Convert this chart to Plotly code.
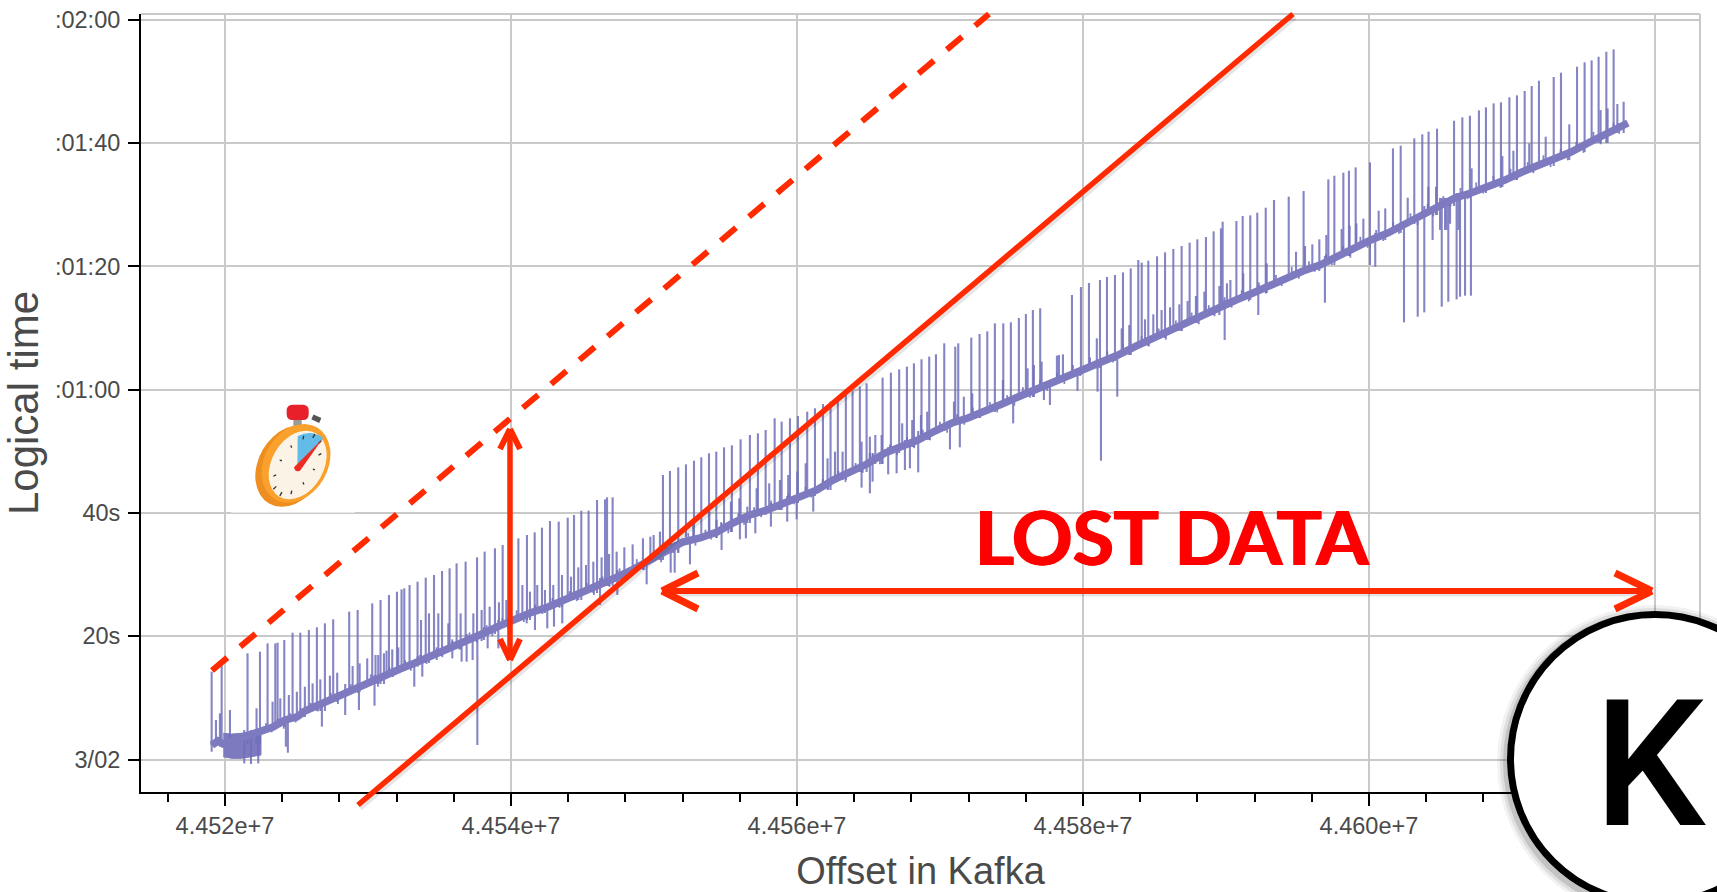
import base64
import numpy as np
import plotly.graph_objects as go

# ---- data: offsets in thousands, logical time in seconds ----
BASE = 44500.0
base_offset_k = [19.09,19.51,19.86,22.52,23.36,24.20,25.03,25.59,26.99,28.39,29.79,31.19,31.89,32.24,33.29,34.48,35.59,36.78,37.97,39.02,40.07,41.33,42.59,43.78,44.97,46.08,47.27,48.46,49.72,50.84,52.03,53.22,54.41,55.52,56.71,57.90,59.02,60.21,61.40,62.52,63.71,64.89,66.15,67.34,68.46,69.65,70.84,71.96,73.15,74.34,75.45,76.64,77.83,78.95,80.14,81.33,82.45,83.71,84.89,86.08,87.27,88.39,89.58,90.70,91.89,93.08,94.27,95.39,96.57,97.83,99.02,100.14,101.33,102.52,103.71,104.83,106.01,107.13,108.32,109.51,110.70,111.82,113.01,114.13,115.32,116.72,118.11]
base_time_s = [2.35,3.0,2.52,4.79,5.27,6.41,6.9,7.87,9.33,10.95,12.25,13.71,14.36,14.68,15.65,16.79,17.92,19.22,20.36,21.49,22.63,23.77,24.74,25.87,27.01,28.14,29.44,30.74,32.36,33.50,35.28,35.93,36.90,38.36,39.66,40.47,41.61,42.74,43.72,45.34,46.64,47.93,49.72,50.69,51.83,53.29,54.58,55.39,56.37,57.67,58.80,59.94,61.24,62.37,63.51,64.64,65.61,67.07,68.37,69.51,70.81,72.10,73.40,74.54,75.67,76.97,78.27,79.24,80.21,81.67,83.13,84.27,85.41,86.86,88.32,89.78,91.08,91.89,92.87,94.0,95.30,96.27,97.25,98.54,100.0,101.63,103.25]

# dense start-up burst outlined as a closed area (top edge, then bottom edge)
burst_offset_k = [19.88,20.46,21.16,21.86,22.52,22.52,21.86,21.16,20.46,19.88]
burst_time_s = [4.25,4.13,4.25,4.52,5.06,0.73,0.46,0.19,0.19,0.46]

tall_offset_k = [19.07,19.77,21.58,22.45,22.98,23.52,23.68,24.15,24.73,25.27,25.87,26.43,26.99,27.57,28.69,29.28,30.30,30.88,31.47,32.03,32.35,32.54,32.91,33.47,34.04,34.62,35.18,35.71,36.20,36.83,37.63,38.16,38.88,39.42,40.52,41.12,41.66,42.17,42.73,43.34,43.97,44.41,44.92,45.43,46.02,46.58,46.72,47.11,50.63,51.12,51.70,52.24,52.80,53.31,53.85,54.36,54.90,55.45,56.06,56.71,57.27,57.81,58.44,58.93,59.51,60.07,60.72,61.26,61.82,62.35,62.86,63.42,63.89,64.40,64.87,65.99,66.57,67.15,67.69,68.18,68.71,69.25,69.72,70.30,71.07,71.28,72.19,72.77,73.31,73.84,74.43,74.96,75.52,76.01,76.50,77.01,79.23,79.86,80.42,81.19,81.68,82.24,82.80,83.34,83.87,84.11,84.57,85.18,85.74,86.32,86.90,87.46,88.00,88.60,89.14,89.65,89.77,90.73,91.17,91.70,92.19,92.78,93.36,94.39,95.43,97.16,97.58,98.21,98.60,99.07,100.07,101.68,102.22,103.17,103.73,104.17,104.76,105.95,106.53,107.06,107.69,108.18,108.72,109.23,109.82,110.35,110.89,111.38,111.89,112.92,113.43,114.55,115.08,115.57,116.06,116.60,117.11]
tall_time_s = [14.25,15.33,17.22,17.49,18.84,18.84,18.95,19.38,20.57,20.57,21.0,21.44,22.09,22.74,23.98,24.25,25.33,25.87,26.68,27.22,27.6,27.76,28.3,28.85,29.50,29.93,30.58,31.01,31.82,32.09,32.80,33.72,34.26,34.80,35.88,36.42,36.85,37.61,38.69,38.58,39.23,39.66,40.37,40.37,42.10,42.2,42.53,42.53,46.15,46.80,47.40,47.88,48.48,49.02,49.67,49.94,50.64,50.97,51.94,52.64,52.91,53.45,55.35,54.81,55.35,55.72,56.43,56.97,57.67,58.05,58.59,59.40,59.83,60.48,61.02,61.94,62.75,63.29,63.73,64.27,64.92,65.35,65.73,67.51,66.97,67.51,68.43,69.02,69.45,70.75,70.75,70.92,71.62,72.27,72.92,73.19,75.35,76.64,77.3,77.78,78.27,78.59,79.02,79.67,81.03,80.59,80.92,81.62,82.27,82.81,83.30,83.84,84.38,84.76,85.68,86.16,87.24,87.35,88.16,88.27,88.70,89.51,90.76,91.30,92.22,94.11,94.70,95.19,95.51,96.05,96.86,99.13,99.57,100.76,101.41,101.84,102.33,103.62,104.16,104.43,105.30,105.79,106.43,106.60,107.41,107.73,108.44,109.25,110.11,110.71,111.41,112.38,113.09,113.41,114.0,114.81,115.19]

short_offset_k = [19.37,19.65,20.35,22.21,23.33,23.87,24.47,25.03,25.59,26.13,26.67,27.34,27.85,28.93,29.42,29.95,30.53,30.72,31.12,31.30,31.70,32.12,33.71,34.27,34.92,35.62,36.48,37.37,37.95,38.51,39.16,39.68,40.80,41.33,41.84,42.38,42.96,43.57,44.20,44.71,45.25,45.76,46.34,46.86,47.39,47.93,48.51,49.23,49.75,49.98,50.42,51.35,52.75,53.87,54.38,55.38,55.97,56.53,57.18,58.06,58.81,59.39,60.02,60.61,62.14,62.66,63.19,64.52,65.10,65.48,65.92,67.36,68.06,68.67,69.11,69.95,70.98,71.67,72.26,74.40,76.13,76.57,77.11,78.18,78.32,78.60,80.97,82.71,83.24,84.34,84.92,85.50,86.09,86.74,87.32,87.90,88.49,89.54,90.07,90.31,91.21,92.85,94.90,95.53,96.04,96.53,97.02,98.09,98.65,99.12,99.61,100.68,101.14,102.71,104.15,104.69,107.18,109.33,110.10,111.21,112.36,114.01,116.20,116.69,117.37,117.81]
short_time_s = [6.41,7.49,8.03,8.30,9.38,9.92,10.46,11.0,11.81,12.35,13.0,13.6,14.08,15.16,15.6,16.41,16.95,16.95,17.22,17.65,17.87,18.19,22.63,23.71,23.71,22.09,23.71,23.71,24.25,24.79,25.50,25.87,28.3,27.23,28.3,27.5,28.3,29.93,29.66,31.17,31.55,32.09,32.8,33.34,33.72,34.42,34.9,35.88,36.15,36.42,36.96,35.07,38.31,40.21,38.86,41.83,42.37,41.02,44.0,44.8,45.34,46.15,46.7,48.05,48.86,49.94,49.94,51.56,52.37,52.64,52.64,54.53,55.07,55.88,56.42,54.26,58.05,58.86,59.40,61.56,63.45,63.99,64.53,65.51,65.62,65.72,68.32,69.94,70.48,71.40,72.21,72.91,73.35,73.83,74.37,75.19,75.89,76.81,77.24,77.78,78.86,80.48,82.37,83.29,83.56,84.37,85.08,86.05,86.59,86.97,87.73,89.02,89.40,91.13,92.92,92.92,95.89,97.89,98.76,99.95,101.03,103.03,105.35,105.62,106.33,106.70]

down_offset_k = [19.07,19.65,21.35,21.82,22.33,24.26,24.40,26.78,28.41,29.37,30.46,33.24,33.48,33.80,34.81,35.90,36.55,36.90,37.32,37.65,38.12,38.37,39.12,41.10,41.68,42.54,43.01,43.59,46.23,47.44,49.49,51.17,51.45,52.52,54.73,56.01,56.43,57.09,58.18,59.32,59.98,61.14,64.52,65.10,65.29,66.38,66.97,67.55,67.90,68.48,70.70,71.39,75.12,77.27,77.69,79.62,81.02,81.26,82.40,89.91,92.26,96.92,100.07,100.44,102.45,103.41,103.87,104.45,104.97,105.09,105.32,105.43,105.55,105.67,106.13,106.25,106.37,106.72,107.13]
down_time_s = [1.27,2.08,-0.62,-0.73,-0.62,2.08,1.1,5.33,7.22,8.03,8.73,11.81,15.06,13.44,16.14,16.41,15.87,15.87,16.14,2.35,19.39,18.03,18.03,22.09,21.01,21.28,21.55,22.09,25.06,26.69,28.42,30.31,30.31,31.66,33.99,35.72,35.88,36.69,37.77,38.58,38.96,40.21,44.1,43.18,45.07,46.26,46.42,46.96,47.23,46.58,50.31,50.64,54.53,58.32,57.51,59.78,59.67,48.48,58.86,68.05,72.10,74.10,80.21,79.94,70.91,71.83,72.53,84.27,85.9,73.45,85.9,85.9,74.26,86.9,74.64,85.9,75.07,75.24,75.24]

# fine hairs that roughen the edges of the band
hair_up_offset_k = [22.87,23.71,24.55,25.30,26.0,27.4,28.8,30.2,31.5,32.6,33.65,34.8,35.9,37.1,38.3,39.4,40.4,41.7,42.9,44.1,45.3,46.4,47.6,48.8,50.1,51.2,52.4,53.6,54.7,55.9,57.0,58.2,59.4,60.6,61.8,62.9,64.1,65.3,66.5,67.7,68.8,70.0,71.2,72.3,73.5,74.7,75.8,77.0,78.2,79.3,80.5,81.7,82.8,84.1,85.3,86.5,87.6,88.8,89.9,91.1,92.3,93.5,94.6,95.8,97.0,98.2,99.4,100.5,101.7,102.9,104.1,105.2,106.4,107.5,108.7,109.9,111.1,112.2,113.4,114.5,115.7,117.1]
hair_up_time_s = [5.9,6.7,7.5,8.3,9.2,10.8,12.2,13.8,15.0,16.1,17.0,18.2,19.5,20.6,21.8,22.9,24.2,25.1,26.2,27.3,28.6,29.7,31.0,32.5,33.8,35.1,36.7,37.3,38.5,39.9,40.9,42.0,43.1,44.2,45.5,46.8,48.1,49.6,51.1,52.3,53.5,54.8,56.0,57.1,58.0,59.1,60.4,61.6,62.7,64.0,65.2,66.2,67.4,68.7,69.9,71.2,72.5,73.7,75.0,76.1,77.4,78.6,79.9,80.8,82.0,83.3,84.8,85.9,87.2,88.6,90.1,91.4,92.7,93.6,94.7,95.8,96.9,98.0,99.0,100.2,101.8,103.3]
hair_down_offset_k = [23.27,24.11,24.95,25.50,26.5,27.9,29.3,30.7,31.75,33.0,34.1,35.2,36.4,37.6,38.7,39.8,40.9,42.2,43.4,44.6,45.8,46.9,48.1,49.3,50.5,51.7,52.9,54.0,55.2,56.3,57.5,58.7,59.8,61.0,62.2,63.4,64.6,65.8,67.0,68.2,69.3,70.5,71.7,72.8,74.0,75.2,76.3,77.5,78.7,79.8,81.0,82.1,83.3,84.6,85.8,86.9,88.1,89.2,90.4,91.6,92.8,93.9,95.1,96.2,97.4,98.7,99.9,101.0,102.1,103.4,104.5,105.7,106.9,108.0,109.2,110.3,111.5,112.7,113.9,115.0,116.2,117.5]
hair_down_time_s = [4.4,5.0,6.0,6.9,7.8,9.0,10.8,11.8,13.4,14.4,15.5,16.6,17.8,19.0,20.0,21.2,22.3,23.6,24.6,25.7,26.7,28.0,29.1,30.8,32.0,33.6,34.7,35.7,36.7,38.1,39.3,40.5,41.4,42.5,43.8,45.0,46.5,47.9,49.4,50.5,51.8,53.0,54.3,55.4,56.3,57.4,58.7,59.8,60.9,62.2,63.4,64.4,65.7,67.0,68.1,69.5,70.6,71.9,73.3,74.3,75.6,76.8,78.0,79.1,80.2,81.4,83.0,84.1,85.3,86.7,88.1,89.7,90.9,91.8,92.7,94.0,95.1,96.1,97.2,98.4,99.8,101.5]

x_tick_values = [44520000, 44540000, 44560000, 44580000, 44600000, 44620000]
x_tick_labels = ["4.452e+7", "4.454e+7", "4.456e+7", "4.458e+7", "4.460e+7", ""]
y_tick_values = [0, 20, 40, 60, 80, 100, 120]
y_tick_labels = ["3/02", "20s", "40s", ":01:00", ":01:20", ":01:40", ":02:00"]

# ---- layout constants (window pixels) ----
W, H = 1717, 892
L, R, T, B = 141, 1700, 14, 792
RED = "#ff2a00"
LINE = "#7d7abf"
SPIKE = "rgba(112,110,186,0.85)"
GRID = "#c9c9c9"
TEXT = "#4a4a4a"

def X(px):
    return (px - L) / (R - L)

def Y(py):
    return (B - py) / (B - T)

def abs_x(k):
    return (BASE + np.asarray(k, dtype=float)) * 1000

base_x = abs_x(base_offset_k)
base_y = np.asarray(base_time_s)

def spike_path(offs, tips, upward):
    xs, ys = [], []
    for k, tip in zip(abs_x(offs), tips):
        i = int(np.searchsorted(base_x, k))
        i = max(1, min(i, len(base_x) - 1))
        foot = base_y[i - 1] if upward else base_y[i]
        xs += [k, k, None]
        ys += [tip, foot, None]
    return xs, ys

fig = go.Figure()
fig.add_trace(go.Scatter(x=abs_x(burst_offset_k), y=burst_time_s, mode="lines", fill="toself",
                         fillcolor=LINE, line=dict(color=LINE, width=1), hoverinfo="skip"))
for offs, tips, up, w in [(tall_offset_k, tall_time_s, True, 2.1), (short_offset_k, short_time_s, True, 2.1),
                          (down_offset_k, down_time_s, False, 2.1),
                          (hair_up_offset_k, hair_up_time_s, True, 1.8),
                          (hair_down_offset_k, hair_down_time_s, False, 1.8)]:
    sx, sy = spike_path(offs, tips, up)
    fig.add_trace(go.Scatter(x=sx, y=sy, mode="lines", line=dict(color=SPIKE, width=w), hoverinfo="skip"))
fig.add_trace(go.Scatter(x=base_x, y=base_y, mode="lines", line=dict(color=LINE, width=7.5)))

shapes = []

def seg(x0, y0, x1, y1, width=5, color=RED, dash="solid", layer="above"):
    shapes.append(dict(type="line", xref="paper", yref="paper", x0=X(x0), y0=Y(y0), x1=X(x1), y1=Y(y1),
                       line=dict(color=color, width=width, dash=dash), layer=layer))

# plot frame, top and right
seg(L, T, R, T, 2, GRID, layer="below")
seg(R, T, R, B, 2, GRID, layer="below")
# pasted white strip under the stopwatch
seg(231, 512, 355, 512, 2, "rgba(255,255,255,0.6)")

# guide lines
seg(358 + 2, 805 + 3, 1293 + 2, 14 + 3, 5.5, "rgba(0,0,0,0.10)")
seg(358, 805, 1293, 14, 5.5)
seg(212, 670.5, 989, 14, 6, dash="20px,17px")

# vertical double arrow
seg(510, 431, 510, 658, 5.5)
for a in [(510, 429, 500, 449), (510, 429, 520, 449), (510, 660, 500, 639), (510, 660, 520, 639)]:
    seg(*a, 6)

# horizontal double arrow
seg(664, 593.5, 1650, 593.5, 6, "rgba(0,0,0,0.10)")
seg(664, 591, 1650, 591, 6)
for a in [(662, 591, 698, 573), (662, 591, 698, 609), (1652, 591, 1615, 573), (1652, 591, 1615, 609)]:
    seg(*a, 7)

# round badge with soft shadow
cx, cy, r = 1655, 759, 148
for grow, alpha in [(9, 0.05), (6, 0.08), (3, 0.12)]:
    shapes.append(dict(type="circle", xref="paper", yref="paper", layer="above",
                       x0=X(cx - r - grow - 1), x1=X(cx + r + grow - 1),
                       y0=Y(cy + r + grow + 3), y1=Y(cy - r - grow + 3),
                       fillcolor=f"rgba(0,0,0,{alpha})", line=dict(width=0)))
shapes.append(dict(type="circle", xref="paper", yref="paper", layer="above",
                   x0=X(cx - r + 3.5), x1=X(cx + r - 3.5), y0=Y(cy + r - 3.5), y1=Y(cy - r + 3.5),
                   fillcolor="white", line=dict(color="black", width=7)))

# stopwatch drawing
ticks_svg = ""
for a in range(0, 360, 30):
    t = np.deg2rad(a)
    c, s = np.cos(t), np.sin(t)
    def pt(rad):
        ex, ey = rad * 85 * c, rad * 103 * s
        ang = np.deg2rad(32)
        return 352 + ex * np.cos(ang) - ey * np.sin(ang) * 0.35, 255 + ey * np.cos(ang) + ex * np.sin(ang) * -0.75
    (x1, y1), (x2, y2) = pt(1.0), pt(0.88)
    ticks_svg += f'<line x1="{x1:.1f}" y1="{y1:.1f}" x2="{x2:.1f}" y2="{y2:.1f}" stroke="#333" stroke-width="4"/>'
svg = f'''<svg xmlns="http://www.w3.org/2000/svg" viewBox="200 60 280 340" width="280" height="340">
<rect x="340" y="118" width="25" height="26" fill="#9a9a9a"/>
<rect x="320" y="74" width="66" height="46" rx="16" fill="#e8202a"/>
<rect x="396" y="108" width="26" height="16" fill="#555" transform="rotate(25 409 116)"/>
<ellipse cx="332" cy="258" rx="97" ry="130" transform="rotate(30 332 258)" fill="#ee8e20"/>
<ellipse cx="348" cy="250" rx="95" ry="125" transform="rotate(30 348 250)" fill="#f9a12c"/>
<ellipse cx="353" cy="255" rx="78" ry="110" transform="rotate(30 353 255)" fill="#fbf3e6"/>
<path d="M352 258 L353 168 Q395 148 430 174 Z" fill="#63bce8"/>
{ticks_svg}
<path d="M342 262 L428 176 L360 272 Q345 278 342 262 Z" fill="#ee2c24"/>
</svg>'''
src = "data:image/svg+xml;base64," + base64.b64encode(svg.encode()).decode()
images = [dict(source=src, xref="paper", yref="paper", x=X(246.7), y=Y(400), sizex=93.3 / (R - L), sizey=113.3 / (B - T),
               xanchor="left", yanchor="top", sizing="stretch", layer="above")]

annotations = [
    dict(text="LOST DATA", xref="paper", yref="paper", x=X(1172), y=Y(536), showarrow=False,
         xanchor="center", yanchor="middle",
         font=dict(family="Lato", size=75, color="#ff0000", weight="bold", shadow="1px 0 0 #ff0000, -1px 0 0 #ff0000")),
    dict(text="K", xref="paper", yref="paper", x=X(1650), y=Y(765), showarrow=False,
         xanchor="center", yanchor="middle", font=dict(family="Roboto", size=176, color="black", weight=500)),
]

axis_font = dict(family="Liberation Sans", size=23.5, color=TEXT)

x_low = (BASE + 14.13) * 1000
x_high = (BASE + 123.15) * 1000

fig.update_layout(
    width=W, height=H, autosize=False, showlegend=False,
    margin=dict(l=L, r=W - R, t=T, b=H - B, pad=0),
    paper_bgcolor="white", plot_bgcolor="white",
    shapes=shapes, images=images, annotations=annotations,
    xaxis=dict(range=[x_low, x_high], tickmode="array", tickvals=x_tick_values, ticktext=x_tick_labels,
               showgrid=True, gridcolor=GRID, gridwidth=2, zeroline=False,
               showline=True, linecolor="black", linewidth=2,
               ticks="outside", ticklen=12, tickwidth=2, tickcolor="black", tickfont=axis_font,
               ticklabelstandoff=0,
               minor=dict(tickmode="linear", tick0=44520000, dtick=4000, ticks="outside", ticklen=8,
                          tickwidth=2, tickcolor="black", showgrid=False),
               title=dict(text="Offset in Kafka", font=dict(family="Liberation Sans", size=38, color=TEXT), standoff=32),
               automargin=False),
    yaxis=dict(range=[-5.27, 120.93], tickmode="array", tickvals=y_tick_values, ticktext=y_tick_labels,
               showgrid=True, gridcolor=GRID, gridwidth=2, zeroline=False,
               showline=True, linecolor="black", linewidth=2,
               ticks="outside", ticklen=11, tickwidth=2, tickcolor="black", tickfont=axis_font,
               ticklabelstandoff=3,
               title=dict(text="Logical time", font=dict(family="Liberation Sans", size=42, color=TEXT), standoff=7),
               automargin=False),
)

fig.write_html("out.html", config={"displayModeBar": False},
               post_script="document.body.style.margin='0';document.documentElement.style.overflow='hidden';")
